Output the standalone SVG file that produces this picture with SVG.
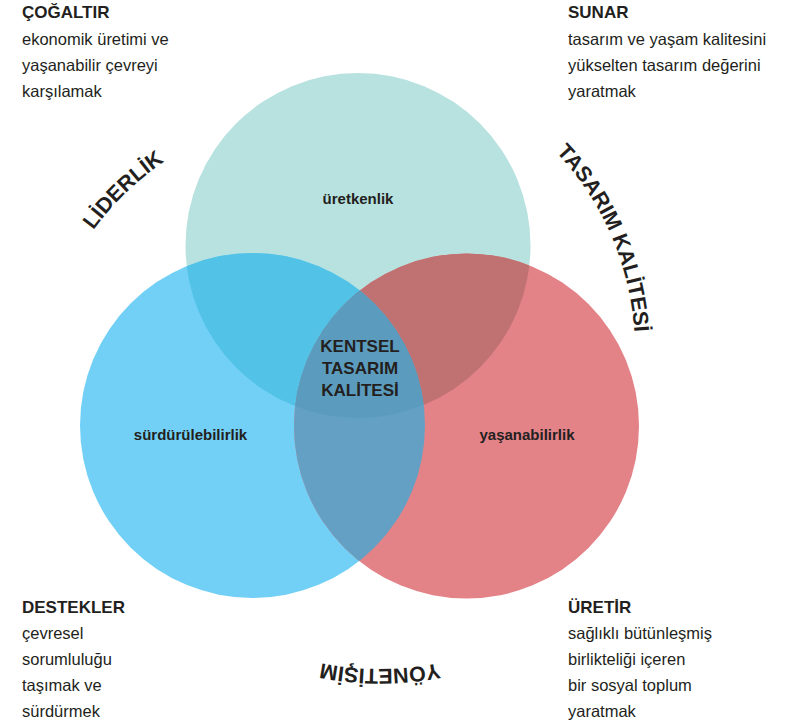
<svg xmlns="http://www.w3.org/2000/svg" xmlns:xlink="http://www.w3.org/1999/xlink" width="785" height="728" viewBox="0 0 785 728">
<style>
.h{font-family:"Liberation Sans",Arial,sans-serif;font-weight:bold;font-size:17px;fill:#231f20}
.b{font-family:"Liberation Sans",Arial,sans-serif;font-size:16.5px;fill:#231f20}
.n{font-family:"Liberation Sans",Arial,sans-serif;font-weight:bold;font-size:15px;fill:#231f20;text-anchor:middle}
.c{font-family:"Liberation Sans",Arial,sans-serif;font-weight:bold;font-size:17px;fill:#231f20;text-anchor:middle}
.arc{font-family:"Liberation Sans",Arial,sans-serif;font-weight:bold;font-size:21.5px;fill:#231f20}
</style>
<defs>
<circle id="cT" cx="358" cy="245.5" r="172.5"/>
<circle id="cB" cx="252.5" cy="425.5" r="172.5"/>
<circle id="cR" cx="466.5" cy="426" r="172.5"/>
<clipPath id="kB"><use xlink:href="#cB"/></clipPath>
<clipPath id="kR"><use xlink:href="#cR"/></clipPath>
<path id="pL" d="M 49.1 320.6 A 288 288 0 0 1 256.3 120.6" fill="none"/>
<path id="pK" d="M 517.5 117.9 A 290 290 0 0 1 633.1 383.8" fill="none"/>
<path id="pY" d="M 482.6 650.9 A 300 300 0 0 1 277.4 650.9" fill="none"/>
</defs>
<rect width="785" height="728" fill="#ffffff"/>

<g id="venn">
<g id="node-uretkenlik"><use xlink:href="#cT" fill="#b8e2e0"/></g>
<g id="node-surdurulebilirlik"><use xlink:href="#cB" fill="#72d0f6"/></g>
<g id="node-yasanabilirlik"><use xlink:href="#cR" fill="#e38388"/></g>
<use xlink:href="#cT" fill="#52c3e7" clip-path="url(#kB)"/>
<use xlink:href="#cT" fill="#c07272" clip-path="url(#kR)"/>
<use xlink:href="#cB" fill="#64a0c4" clip-path="url(#kR)"/>
<g clip-path="url(#kR)"><use xlink:href="#cT" fill="#5b9cbe" clip-path="url(#kB)"/></g>
</g>

<g id="labels">
<text class="n" x="358" y="204">üretkenlik</text>
<text class="n" x="190.5" y="440">sürdürülebilirlik</text>
<text class="n" x="527" y="440">yaşanabilirlik</text>
</g>
<g id="node-center">
<text class="c" x="360" y="352">KENTSEL</text>
<text class="c" x="360" y="374">TASARIM</text>
<text class="c" x="360" y="396">KALİTESİ</text>
</g>

<g id="arc-labels">
<text class="arc"><textPath xlink:href="#pL" startOffset="50%" text-anchor="middle">LİDERLİK</textPath></text>
<text class="arc"><textPath xlink:href="#pK" startOffset="50%" text-anchor="middle">TASARIM KALİTESİ</textPath></text>
<text class="arc"><textPath xlink:href="#pY" startOffset="50%" text-anchor="middle">YÖNETİŞİM</textPath></text>
</g>

<g id="corner-cogaltir">
<text class="h" x="22" y="18">ÇOĞALTIR</text>
<text class="b" x="22" y="45">ekonomik üretimi ve</text>
<text class="b" x="22" y="71">yaşanabilir çevreyi</text>
<text class="b" x="22" y="97">karşılamak</text>
</g>
<g id="corner-sunar">
<text class="h" x="568" y="18">SUNAR</text>
<text class="b" x="568" y="45">tasarım ve yaşam kalitesini</text>
<text class="b" x="568" y="71">yükselten tasarım değerini</text>
<text class="b" x="568" y="97">yaratmak</text>
</g>
<g id="corner-destekler">
<text class="h" x="22" y="613">DESTEKLER</text>
<text class="b" x="22" y="639">çevresel</text>
<text class="b" x="22" y="665">sorumluluğu</text>
<text class="b" x="22" y="691">taşımak ve</text>
<text class="b" x="22" y="717">sürdürmek</text>
</g>
<g id="corner-uretir">
<text class="h" x="568" y="613">ÜRETİR</text>
<text class="b" x="568" y="639">sağlıklı bütünleşmiş</text>
<text class="b" x="568" y="665">birlikteliği içeren</text>
<text class="b" x="568" y="691">bir sosyal toplum</text>
<text class="b" x="568" y="717">yaratmak</text>
</g>
</svg>
